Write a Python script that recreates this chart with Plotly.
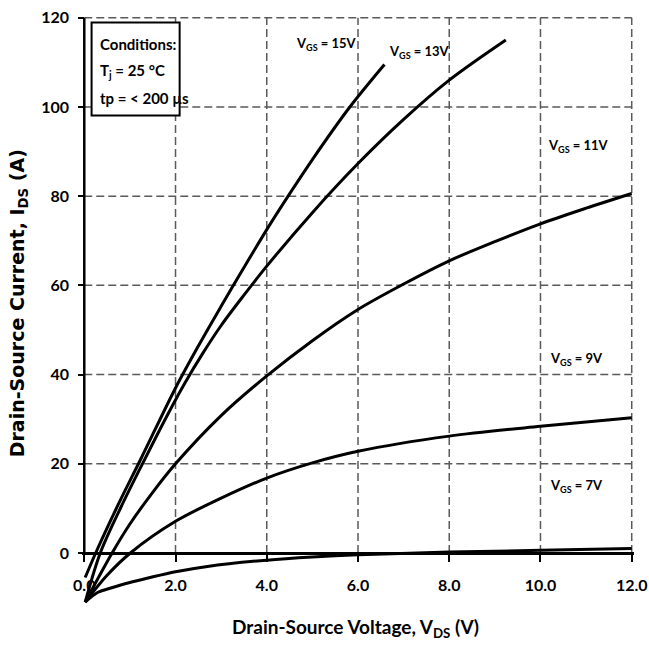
import plotly.graph_objects as go

# ---------------- data ----------------
x_ticks = [0, 2, 4, 6, 8, 10, 12]
x_ticklabels = ["0.0", "2.0", "4.0", "6.0", "8.0", "10.0", "12.0"]
y_ticks = [0, 20, 40, 60, 80, 100, 120]
y_ticklabels = ["0", "20", "40", "60", "80", "100", "120"]

vds_15 = [0.02, 0.25, 0.75, 1.25, 2.0, 2.5, 3.0, 3.5, 4.0, 4.5, 5.0, 5.8, 6.58]
ids_15 = [-5.5, 0, 11, 21.3, 37, 46.4, 55.3, 64, 72.5, 80.5, 88.2, 99.7, 109.5]

vds_13 = [0.02, 0.35, 0.8, 1.3, 1.8, 2.2, 2.6, 3.0, 3.5, 4.0, 5.0, 6.0, 7.0, 8.0, 9.24]
ids_13 = [-11, 0, 10.2, 20.5, 30.5, 38, 44.8, 51, 57.8, 64.3, 76.3, 87.3, 97.2, 106, 115]

vds_11 = [0.02, 0.61, 1.0, 1.5, 2.0, 3.0, 4.0, 5.0, 6.0, 7.0, 8.0, 9.0, 10.0, 11.0, 12.0]
ids_11 = [-11, 0, 6.5, 13.6, 20, 30.8, 39.7, 47.6, 54.6, 60.3, 65.5, 69.8, 73.8, 77.3, 80.6]

vds_9 = [0.02, 0.5, 1.01, 2.0, 3.0, 4.0, 5.0, 6.0, 8.0, 10.0, 12.0]
ids_9 = [-11, -5, 0, 7.1, 12.3, 16.8, 20.2, 22.8, 26.2, 28.4, 30.3]

vds_7 = [0.02, 0.3, 0.6, 1.0, 1.4, 2.0, 2.7, 4.0, 5.0, 6.0, 8.0, 10.0, 12.0]
ids_7 = [-11, -8.8, -7.8, -6.6, -5.6, -4.2, -3.0, -1.6, -0.9, -0.4, 0.2, 0.6, 1.0]

curves = [(vds_15, ids_15), (vds_13, ids_13), (vds_11, ids_11), (vds_9, ids_9), (vds_7, ids_7)]

label_texts = ["V<sub>GS</sub> = 15V", "V<sub>GS</sub> = 13V", "V<sub>GS</sub> = 11V",
               "V<sub>GS</sub> = 9V", "V<sub>GS</sub> = 7V"]
label_x = [5.3, 7.35, 10.83, 10.79, 10.79]
label_y = [114.0, 112.2, 91.2, 43.4, 15.0]

cond_lines = ["Conditions:", "T<sub>j</sub> = 25 °C", "tp = &lt; 200 µs"]
cond_y = [114.2, 108.0, 102.1]

# ---------------- figure ----------------
XR = [-0.05, 12.05]
YR = [-13, 121.5]
FONT = "Lato, Open Sans, sans-serif"

fig = go.Figure()
for xs, ys in curves:
    fig.add_trace(go.Scatter(x=xs, y=ys, mode="lines",
                             line=dict(color="black", width=3, shape="spline", smoothing=0.9),
                             hoverinfo="skip"))

shapes = []
gx_max = max(x_ticks)
gy_max = max(y_ticks)
for v in x_ticks[1:]:
    shapes.append(dict(type="line", xref="x", yref="y", x0=v, x1=v, y0=0, y1=gy_max,
                       line=dict(color="#5a5a5a", width=1.5, dash="8px,4px"), layer="below"))
for v in y_ticks[1:]:
    shapes.append(dict(type="line", xref="x", yref="y", x0=0, x1=gx_max, y0=v, y1=v,
                       line=dict(color="#5a5a5a", width=1.5, dash="8px,4px"), layer="below"))
# y axis line (only 0..120)
shapes.append(dict(type="line", xref="x", yref="y", x0=0, x1=0, y0=0, y1=gy_max,
                   line=dict(color="black", width=2.5), layer="above"))
# conditions box
shapes.append(dict(type="rect", xref="x", yref="y", x0=0.16, x1=2.09, y0=98.1, y1=118.9,
                   line=dict(color="black", width=2), fillcolor="white", layer="above"))

annotations = []
for t, x, y in zip(label_texts, label_x, label_y):
    annotations.append(dict(x=x, y=y, xref="x", yref="y", text=t, showarrow=False,
                            font=dict(family=FONT, size=13, color="black", weight="bold"),
                            xanchor="center", yanchor="middle"))
for t, y in zip(cond_lines, cond_y):
    annotations.append(dict(x=0.29, y=y, xref="x", yref="y", text=t, showarrow=False,
                            font=dict(family=FONT, size=15, color="black", weight="bold"),
                            xanchor="left", yanchor="middle"))
annotations.append(dict(x=0.496, y=-0.0275, xref="paper", yref="paper",
                        text="Drain-Source Voltage, V<sub>DS</sub> (V)", showarrow=False,
                        font=dict(family=FONT, size=19, color="black", weight="bold"),
                        xanchor="center", yanchor="middle"))
annotations.append(dict(x=-0.115, y=0.512, xref="paper", yref="paper",
                        text="Drain-Source Current, I<sub>DS</sub> (A)", showarrow=False,
                        textangle=-90,
                        font=dict(family="DejaVu Sans", size=19, color="black", weight="bold"),
                        xanchor="center", yanchor="middle"))

xpos = (0 - YR[0]) / (YR[1] - YR[0])
ypos = (0 - XR[0]) / (XR[1] - XR[0])

fig.update_layout(
    template="none",
    width=649, height=646,
    margin=dict(l=82.4, r=15.1, t=10.6, b=34.5, autoexpand=False),
    plot_bgcolor="white", paper_bgcolor="white",
    showlegend=False,
    shapes=shapes, annotations=annotations,
    xaxis=dict(range=XR, tickvals=x_ticks, ticktext=x_ticklabels, automargin=False,
               showgrid=False, zeroline=False, showline=True, linewidth=3, linecolor="black",
               ticks="outside", ticklen=7, tickwidth=2, tickcolor="black",
               anchor="free", position=xpos, ticklabelstandoff=10,
               tickfont=dict(family=FONT, size=16, color="black", weight="bold")),
    yaxis=dict(range=YR, tickvals=y_ticks, ticktext=y_ticklabels, automargin=False,
               showgrid=False, zeroline=False, showline=False,
               ticks="outside", ticklen=6, tickwidth=2, tickcolor="black",
               anchor="free", position=ypos, ticklabelstandoff=6,
               tickfont=dict(family=FONT, size=16, color="black", weight="bold")),
)

fig.write_html("out.html")
